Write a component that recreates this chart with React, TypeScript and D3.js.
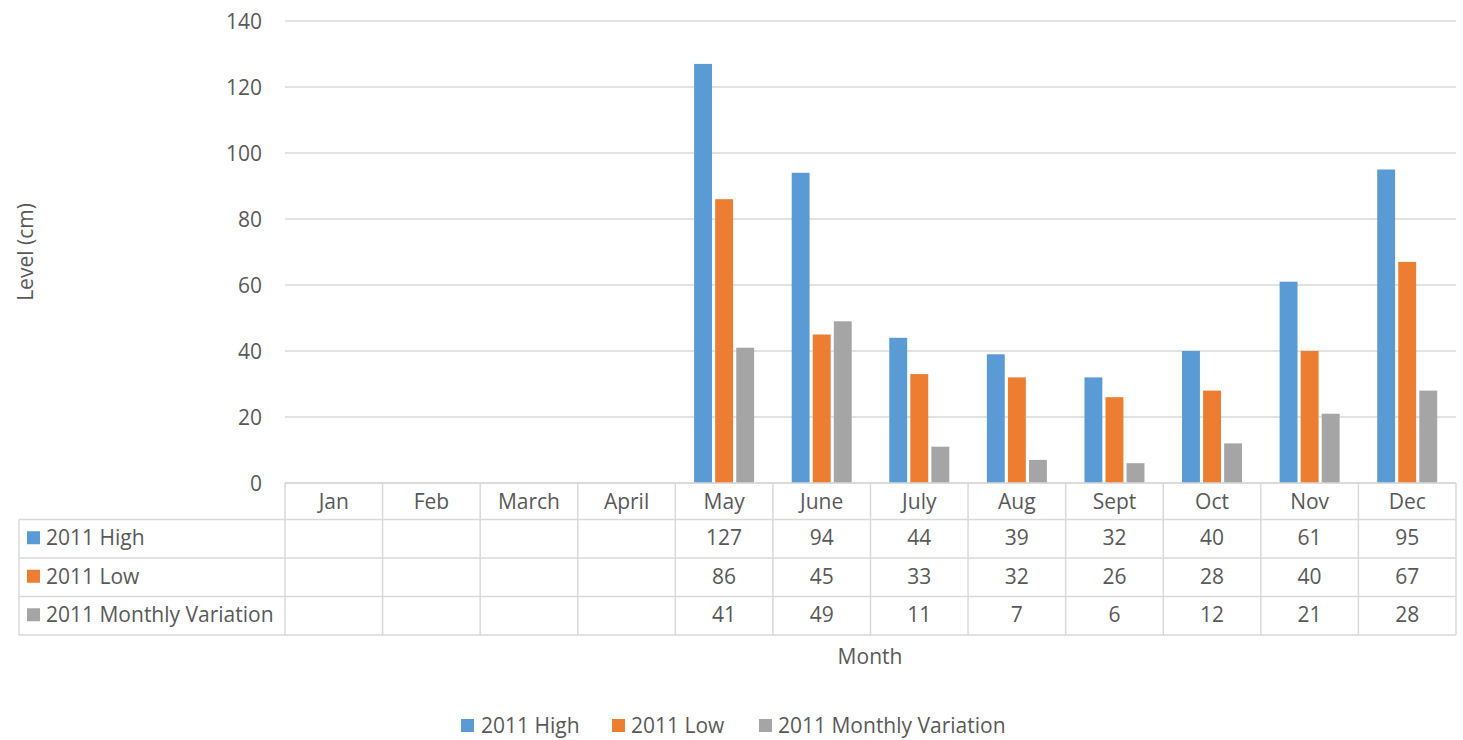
import React from "react";
import * as d3 from "d3";

const width = 1463;
const height = 740;

// data
const months = ["Jan", "Feb", "March", "April", "May", "June", "July", "Aug", "Sept", "Oct", "Nov", "Dec"];
const seriesNames = ["2011 High", "2011 Low", "2011 Monthly Variation"];
const high: (number | null)[] = [null, null, null, null, 127, 94, 44, 39, 32, 40, 61, 95];
const low: (number | null)[] = [null, null, null, null, 86, 45, 33, 32, 26, 28, 40, 67];
const variation: (number | null)[] = [null, null, null, null, 41, 49, 11, 7, 6, 12, 21, 28];
const yTicks = [0, 20, 40, 60, 80, 100, 120, 140];
const colors = ["#5B9BD5", "#ED7D31", "#A5A5A5"];

const seriesValues = [high, low, variation];

const plotLeft = 285;
const plotRight = 1456;
const plotTop = 21;
const plotBottom = 483;
const tableLeft = 19;
const rowLines = [483, 519.5, 558, 596.5, 635];

const font = "'Open Sans', sans-serif";
const textColor = "#595959";
const lineColor = "#D9D9D9";
const fontSize = 21;

const App = () => {
  const x = d3.scaleBand<string>().domain(months).range([plotLeft, plotRight]).padding(0);
  const bw = x.bandwidth();
  const groupW = bw * 0.615;
  const inner = d3
    .scaleBand<string>()
    .domain(seriesNames)
    .range([(bw - groupW) / 2, (bw + groupW) / 2])
    .paddingInner(0.15);
  const y = d3.scaleLinear().domain([0, 140]).range([plotBottom, plotTop]);

  return (
    <svg width={width} height={height} style={{ position: "absolute", left: 0, top: 0 }} fontFamily={font}>
      <rect width={width} height={height} fill="#fff" />
      {/* gridlines */}
      {yTicks.map(t => (
        <g key={t}>
          <line x1={plotLeft} x2={plotRight} y1={y(t)} y2={y(t)} stroke={lineColor} strokeWidth={1.3} />
          <text x={262} y={y(t)} dy="0.36em" textAnchor="end" fontSize={fontSize} fill={textColor}>
            {t}
          </text>
        </g>
      ))}
      {/* bars */}
      {seriesValues.map((vals, si) =>
        vals.map((v, i) =>
          v == null ? null : (
            <rect
              key={`${si}-${i}`}
              x={(x(months[i]) as number) + (inner(seriesNames[si]) as number)}
              y={y(v)}
              width={inner.bandwidth()}
              height={y(0) - y(v)}
              fill={colors[si]}
            />
          )
        )
      )}
      {/* data table */}
      <line x1={plotLeft} x2={plotRight} y1={rowLines[0]} y2={rowLines[0]} stroke={lineColor} strokeWidth={1.5} />
      {rowLines.slice(1).map(r => (
        <line key={r} x1={tableLeft} x2={plotRight} y1={r} y2={r} stroke={lineColor} strokeWidth={1.5} />
      ))}
      <line x1={tableLeft} x2={tableLeft} y1={rowLines[1]} y2={rowLines[4]} stroke={lineColor} strokeWidth={1.5} />
      {months.map(m => (
        <line
          key={m}
          x1={x(m) as number}
          x2={x(m) as number}
          y1={rowLines[0]}
          y2={rowLines[4]}
          stroke={lineColor}
          strokeWidth={1.5}
        />
      ))}
      <line x1={plotRight} x2={plotRight} y1={rowLines[0]} y2={rowLines[4]} stroke={lineColor} strokeWidth={1.5} />
      {months.map(m => (
        <text
          key={m}
          x={(x(m) as number) + bw / 2}
          y={(rowLines[0] + rowLines[1]) / 2}
          dy="0.36em"
          textAnchor="middle"
          fontSize={fontSize}
          fill={textColor}
        >
          {m}
        </text>
      ))}
      {seriesNames.map((s, si) => {
        const cy = (rowLines[si + 1] + rowLines[si + 2]) / 2 - 1;
        return (
          <g key={s}>
            <rect x={27} y={cy - 6.5} width={13} height={13} fill={colors[si]} />
            <text x={46} y={cy} dy="0.36em" fontSize={fontSize} fill={textColor}>
              {s}
            </text>
            {seriesValues[si].map((v, i) =>
              v == null ? null : (
                <text
                  key={i}
                  x={(x(months[i]) as number) + bw / 2}
                  y={cy}
                  dy="0.36em"
                  textAnchor="middle"
                  fontSize={fontSize}
                  fill={textColor}
                >
                  {v}
                </text>
              )
            )}
          </g>
        );
      })}
      {/* axis titles */}
      <text
        transform={`translate(25,252) rotate(-90)`}
        dy="0.36em"
        textAnchor="middle"
        fontSize={fontSize}
        fill={textColor}
      >
        Level (cm)
      </text>
      <text x={870} y={656} dy="0.36em" textAnchor="middle" fontSize={fontSize} fill={textColor}>
        Month
      </text>
      {/* legend */}
      {[
        { x: 461, tx: 481 },
        { x: 612, tx: 631 },
        { x: 759, tx: 778 },
      ].map((p, si) => (
        <g key={si}>
          <rect x={p.x} y={719} width={13} height={13} fill={colors[si]} />
          <text x={p.tx} y={725} dy="0.36em" fontSize={fontSize} fill={textColor}>
            {seriesNames[si]}
          </text>
        </g>
      ))}
    </svg>
  );
};

export default App;
